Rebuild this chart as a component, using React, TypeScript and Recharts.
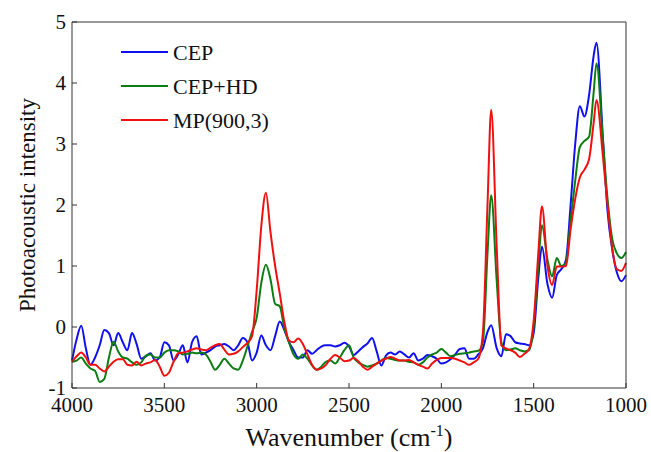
import React from 'react';
import { LineChart, Line, XAxis, YAxis } from 'recharts';

const FONT = "'Liberation Serif', 'Times New Roman', serif";

const wavenumbers = [
  4000, 3975, 3950, 3925, 3900, 3875, 3850, 3825, 3800, 3775,
  3750, 3725, 3700, 3675, 3650, 3625, 3600, 3575, 3550, 3525,
  3500, 3475, 3450, 3425, 3400, 3375, 3350, 3325, 3300, 3275,
  3250, 3225, 3200, 3175, 3150, 3125, 3100, 3075, 3050, 3025,
  3000, 2975, 2950, 2925, 2900, 2875, 2850, 2825, 2800, 2775,
  2750, 2725, 2700, 2675, 2650, 2625, 2600, 2575, 2550, 2525,
  2500, 2475, 2450, 2425, 2400, 2375, 2350, 2325, 2300, 2275,
  2250, 2225, 2200, 2175, 2150, 2125, 2100, 2075, 2050, 2025,
  2000, 1975, 1950, 1925, 1900, 1875, 1850, 1825, 1800, 1775,
  1750, 1730, 1700, 1675, 1650, 1625, 1600, 1575, 1550, 1525,
  1500, 1475, 1455, 1425, 1400, 1375, 1350, 1325, 1300, 1275,
  1250, 1225, 1200, 1175, 1160, 1125, 1100, 1075, 1050, 1025,
  1000,
];

// CEP
const cep = [
  -0.55, -0.2, 0.02, -0.35, -0.62, -0.5, -0.3, -0.05, -0.1, -0.3,
  -0.1, -0.25, -0.38, -0.1, -0.28, -0.52, -0.48, -0.43, -0.55, -0.5,
  -0.25, -0.3, -0.55, -0.45, -0.3, -0.58, -0.25, -0.15, -0.45, -0.42,
  -0.38, -0.32, -0.3, -0.28, -0.32, -0.38, -0.3, -0.18, -0.25, -0.55,
  -0.42, -0.14, -0.3, -0.38, -0.15, 0.09, -0.05, -0.25, -0.38, -0.5,
  -0.5, -0.38, -0.44, -0.38, -0.32, -0.3, -0.3, -0.32, -0.3, -0.26,
  -0.32, -0.46, -0.4, -0.33, -0.27, -0.18, -0.4, -0.63, -0.47, -0.42,
  -0.45, -0.4, -0.45, -0.5, -0.43, -0.55, -0.52, -0.46, -0.48, -0.52,
  -0.6, -0.58, -0.53, -0.45, -0.36, -0.35, -0.52, -0.52, -0.45, -0.35,
  -0.08, 0.03, -0.35, -0.48, -0.12, -0.15, -0.25, -0.27, -0.28, -0.3,
  -0.1, 0.8, 1.32, 0.7, 0.48, 0.85, 0.95, 1.1, 2.0, 3.0,
  3.62, 3.45, 3.8, 4.45, 4.66, 3.1, 1.9, 1.28, 0.9, 0.75,
  0.85,
];

// CEP+HD
const cepHd = [
  -0.57, -0.55, -0.5, -0.6, -0.68, -0.72, -0.9, -0.85, -0.5, -0.24,
  -0.4, -0.5, -0.52, -0.58, -0.62, -0.58, -0.47, -0.45, -0.5, -0.5,
  -0.42, -0.38, -0.38, -0.4, -0.45, -0.44, -0.42, -0.43, -0.42, -0.45,
  -0.57, -0.7, -0.62, -0.52, -0.6, -0.68, -0.7, -0.55, -0.32, -0.08,
  0.15, 0.72, 1.02, 0.78, 0.38, 0.34, -0.02, -0.25, -0.45, -0.52,
  -0.45, -0.52, -0.63, -0.7, -0.65, -0.57, -0.55, -0.6, -0.5, -0.38,
  -0.3, -0.5, -0.58, -0.62, -0.65, -0.63, -0.6, -0.55, -0.51, -0.52,
  -0.54, -0.55, -0.55, -0.57, -0.58, -0.62, -0.58, -0.5, -0.45, -0.42,
  -0.36, -0.42, -0.48, -0.46, -0.44, -0.43, -0.42, -0.4, -0.39, -0.25,
  1.2, 2.16, 0.75, -0.25, -0.38, -0.37, -0.35, -0.38, -0.4, -0.38,
  0.0, 1.0, 1.67, 1.1, 0.83, 1.13, 1.0, 1.05, 1.75, 2.4,
  2.95, 3.05, 3.12, 3.85, 4.32, 3.05, 2.1, 1.45, 1.21, 1.13,
  1.23,
];

// MP(900,3)
const mp = [
  -0.57, -0.48, -0.42, -0.5, -0.62, -0.62, -0.68, -0.73, -0.65, -0.57,
  -0.53, -0.53, -0.62, -0.63, -0.57, -0.63, -0.6, -0.58, -0.54, -0.65,
  -0.8, -0.75, -0.57, -0.43, -0.42, -0.4, -0.37, -0.35, -0.37, -0.38,
  -0.34, -0.3, -0.28, -0.37, -0.45, -0.44, -0.4, -0.33, -0.26, -0.15,
  0.6, 1.65, 2.2, 1.55, 1.0, 0.55, 0.08, -0.22, -0.25, -0.19,
  -0.28, -0.45, -0.62, -0.7, -0.68, -0.62, -0.52, -0.46, -0.5, -0.56,
  -0.55, -0.51, -0.56, -0.65, -0.7, -0.65, -0.6, -0.55, -0.52, -0.49,
  -0.52, -0.55, -0.55, -0.54, -0.58, -0.62, -0.65, -0.68, -0.6, -0.54,
  -0.51, -0.51, -0.51, -0.52, -0.55, -0.58, -0.62, -0.58, -0.52, -0.1,
  2.0, 3.56, 1.3, -0.3, -0.35, -0.38, -0.42, -0.49, -0.44, -0.36,
  0.1, 1.2, 1.98, 1.0, 0.69, 0.99, 0.99, 1.0, 1.6, 2.1,
  2.45, 2.58, 2.75, 3.35, 3.72, 2.8, 2.0, 1.3, 0.95, 0.92,
  1.05,
];

const seriesNames = ['CEP', 'CEP+HD', 'MP(900,3)'];
const seriesKeys = ['cep', 'cephd', 'mp'];
const seriesColors = ['#1010ee', '#0b7d12', '#f01010'];

const xTicks = [4000, 3500, 3000, 2500, 2000, 1500, 1000];
const yTicks = [-1, 0, 1, 2, 3, 4, 5];

const data = wavenumbers.map((w, i) => ({ w, cep: cep[i], cephd: cepHd[i], mp: mp[i] }));

const XTitle = (props: any) => {
  const { x, y, width } = props.viewBox;
  return (
    <text x={x + width / 2} y={y + 58} textAnchor="middle" fill="#111" fontSize={26} fontFamily={FONT}>
      Wavenumber (cm
      <tspan dy={-10} fontSize={16}>-1</tspan>
      <tspan dy={10}>)</tspan>
    </text>
  );
};

const YTitle = (props: any) => {
  const { x, y, height } = props.viewBox;
  const cx = x + 27;
  const cy = y + height / 2;
  return (
    <text x={cx} y={cy} transform={`rotate(-90, ${cx}, ${cy})`} textAnchor="middle" dominantBaseline="central"
      fill="#111" fontSize={23} fontFamily={FONT}>
      Photoacoustic intensity
    </text>
  );
};

const LegendBox = () => (
  <svg width={170} height={110} style={{ position: 'absolute', left: 121, top: 35 }}>
    {seriesNames.map((name, i) => (
      <g key={name}>
        <line x1={0} x2={47} y1={17 + i * 34} y2={17 + i * 34} stroke={seriesColors[i]} strokeWidth={2} />
        <text x={52} y={17 + i * 34} dominantBaseline="central" fontSize={22} fontFamily={FONT} fill="#111">
          {name}
        </text>
      </g>
    ))}
  </svg>
);

export default function App() {
  const tickStyle = { fill: '#111', fontSize: 21, fontFamily: FONT };
  return (
    <div style={{ position: 'absolute', left: 0, top: 0, width: 651, height: 452, background: '#fff' }}>
      <LineChart width={651} height={452} data={data} margin={{ top: 17, right: 20, left: 0, bottom: 0 }}>
        <XAxis dataKey="w" type="number" domain={[1000, 4000]} reversed ticks={xTicks} interval={0}
          tickSize={-5} tickMargin={14} height={64} stroke="#333" tick={tickStyle} label={XTitle} />
        <XAxis xAxisId="top" orientation="top" dataKey="w" type="number" domain={[1000, 4000]} reversed
          ticks={xTicks} interval={0} tickSize={-5} height={5} stroke="#333" tick={false} />
        <YAxis type="number" domain={[-1, 5]} ticks={yTicks} interval={0} tickSize={-5} tickMargin={11}
          width={72} stroke="#333" tick={tickStyle} label={YTitle} />
        <YAxis yAxisId="right" orientation="right" type="number" domain={[-1, 5]} ticks={yTicks} interval={0}
          tickSize={-5} width={5} stroke="#333" tick={false} />
        {seriesKeys.map((k, i) => (
          <Line key={k} dataKey={k} name={seriesNames[i]} type="monotone" stroke={seriesColors[i]} strokeWidth={2}
            dot={false} isAnimationActive={false} />
        ))}
      </LineChart>
      <LegendBox />
    </div>
  );
}
